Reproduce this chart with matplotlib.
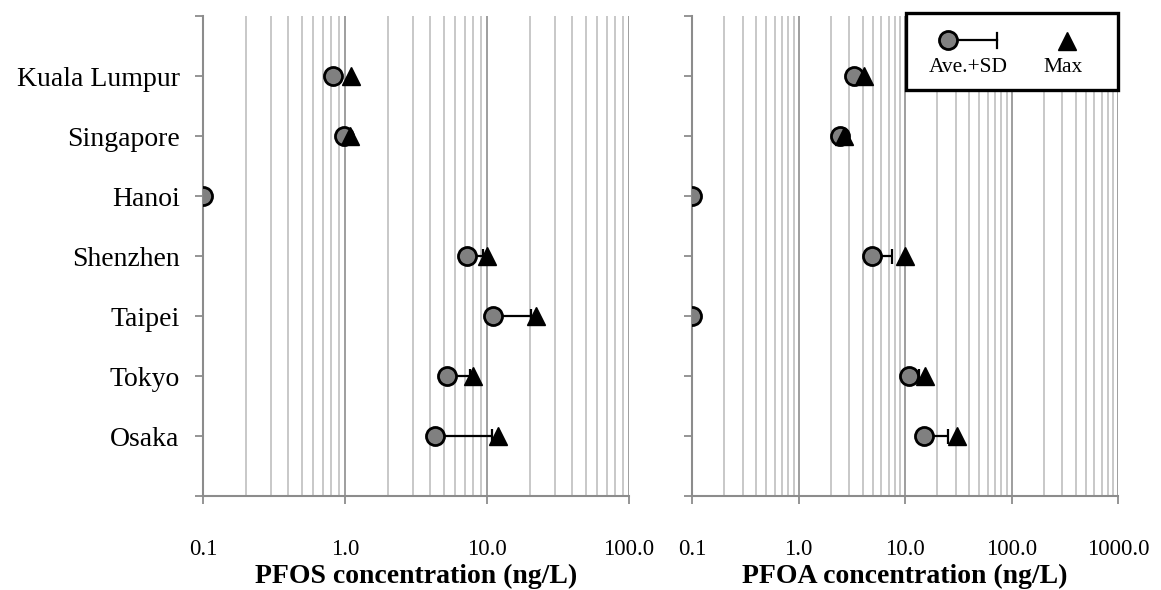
import numpy as np
import matplotlib
matplotlib.use("Agg")
import matplotlib.pyplot as plt
from matplotlib.lines import Line2D
from matplotlib.patches import Rectangle
from matplotlib.ticker import FixedLocator, LogLocator, NullFormatter

plt.rcParams['font.family'] = ['Liberation Serif', 'DejaVu Serif']

# Sites (top to bottom) and concentrations in ng/L; ND plotted at 0.1
cities = ["Kuala Lumpur", "Singapore", "Hanoi", "Shenzhen", "Taipei", "Tokyo", "Osaka"]
pfos_ave = [0.82, 0.99, 0.1, 7.2, 11.0, 5.2, 4.3]
pfos_sd = [0.06, 0.03, 0.0, 2.2, 9.5, 2.4, 6.5]
pfos_max = [1.1, 1.08, np.nan, 10.0, 22.0, 8.0, 12.0]
pfoa_ave = [3.3, 2.45, 0.1, 4.9, 0.1, 10.9, 15.0]
pfoa_sd = [0.4, 0.1, 0.0, 2.6, 0.0, 2.5, 10.5]
pfoa_max = [4.1, 2.7, np.nan, 10.0, np.nan, 15.5, 31.0]

pfos_ticks = [0.1, 1, 10, 100]
pfos_ticklabels = ["0.1", "1.0", "10.0", "100.0"]
pfoa_ticks = [0.1, 1, 10, 100, 1000]
pfoa_ticklabels = ["0.1", "1.0", "10.0", "100.0", "1000.0"]

W, H = 1161, 590
fig = plt.figure(figsize=(W / 100, H / 100), dpi=100)


def rect(x0, y0, x1, y1):
    return [x0 / W, 1 - y1 / H, (x1 - x0) / W, (y1 - y0) / H]


def fx(px):
    return px / W


def fy(py):
    return 1 - py / H


AXIS_GREY = '#8c8c8c'


def draw_panel(ax, ave, sd, mx, ticks, ticklabels, xlabel, show_names):
    ave = np.asarray(ave, float)
    sd = np.asarray(sd, float)
    mx = np.asarray(mx, float)
    ypos = np.arange(1, len(cities) + 1)

    ax.set_xscale('log')
    ax.set_xlim(ticks[0], ticks[-1])
    ax.set_ylim(len(cities) + 1, 0)

    ax.errorbar(ave, ypos, xerr=[np.zeros_like(sd), sd], fmt='none',
                ecolor='black', elinewidth=1.6, capsize=5.4, capthick=1.6,
                zorder=3)
    ax.plot(ave, ypos, linestyle='none', marker='o', markersize=13,
            markerfacecolor='#808080', markeredgecolor='black',
            markeredgewidth=2.0, zorder=4)
    ax.plot(mx, ypos, linestyle='none', marker='^', markersize=12.5,
            markerfacecolor='black', markeredgecolor='black',
            markeredgewidth=1.0, zorder=5)

    ax.xaxis.set_major_locator(FixedLocator(ticks))
    ax.set_xticklabels(ticklabels)
    ax.xaxis.set_minor_locator(LogLocator(base=10, subs=np.arange(2, 10)))
    ax.xaxis.set_minor_formatter(NullFormatter())
    ax.set_yticks(np.arange(0, len(cities) + 2))
    if show_names:
        ax.set_yticklabels([''] + cities + [''])
    else:
        ax.set_yticklabels([''] * (len(cities) + 2))

    ax.grid(which='minor', axis='x', color='#c4c4c4', linewidth=1.3)
    ax.grid(which='major', axis='x', color='#969696', linewidth=1.3)
    ax.set_axisbelow(True)

    for side in ('top', 'right'):
        ax.spines[side].set_visible(False)
    for side in ('left', 'bottom'):
        ax.spines[side].set_color(AXIS_GREY)
        ax.spines[side].set_linewidth(1.5)

    ax.tick_params(axis='x', which='major', direction='out', length=5.8,
                   width=1.3, color=AXIS_GREY, pad=25, labelsize=16.5)
    ax.tick_params(axis='x', which='minor', length=0)
    ax.tick_params(axis='y', direction='out', length=5.8, width=1.3,
                   color=AXIS_GREY, pad=11, labelsize=20)
    ax.set_xlabel(xlabel, fontsize=20, fontweight='bold', labelpad=3)


ax1 = fig.add_axes(rect(203, 16, 629, 496))
ax2 = fig.add_axes(rect(692, 16, 1118, 496))
draw_panel(ax1, pfos_ave, pfos_sd, pfos_max, pfos_ticks, pfos_ticklabels,
           'PFOS concentration (ng/L)', True)
draw_panel(ax2, pfoa_ave, pfoa_sd, pfoa_max, pfoa_ticks, pfoa_ticklabels,
           'PFOA concentration (ng/L)', False)

# Legend box
box = Rectangle((fx(906), fy(90)), fx(1118) - fx(906), fy(13) - fy(90),
                transform=fig.transFigure, facecolor='white',
                edgecolor='black', linewidth=2.4, zorder=10)
fig.add_artist(box)
fig.add_artist(Line2D([fx(948), fx(997)], [fy(40), fy(40)],
                      transform=fig.transFigure, color='black',
                      linewidth=1.6, zorder=11))
fig.add_artist(Line2D([fx(997), fx(997)], [fy(32.5), fy(47.5)],
                      transform=fig.transFigure, color='black',
                      linewidth=1.6, zorder=11))
fig.add_artist(Line2D([fx(948)], [fy(40)], transform=fig.transFigure,
                      marker='o', markersize=13, markerfacecolor='#808080',
                      markeredgecolor='black', markeredgewidth=2.0,
                      linestyle='none', zorder=12))
fig.add_artist(Line2D([fx(1067)], [fy(41)], transform=fig.transFigure,
                      marker='^', markersize=12.5, markerfacecolor='black',
                      markeredgecolor='black', markeredgewidth=1.0,
                      linestyle='none', zorder=12))
fig.text(fx(968), fy(67), 'Ave.+SD', ha='center', va='center',
         fontsize=15.5, zorder=12)
fig.text(fx(1063), fy(67), 'Max', ha='center', va='center',
         fontsize=15.5, zorder=12)

fig.savefig('out.png', dpi=100)
